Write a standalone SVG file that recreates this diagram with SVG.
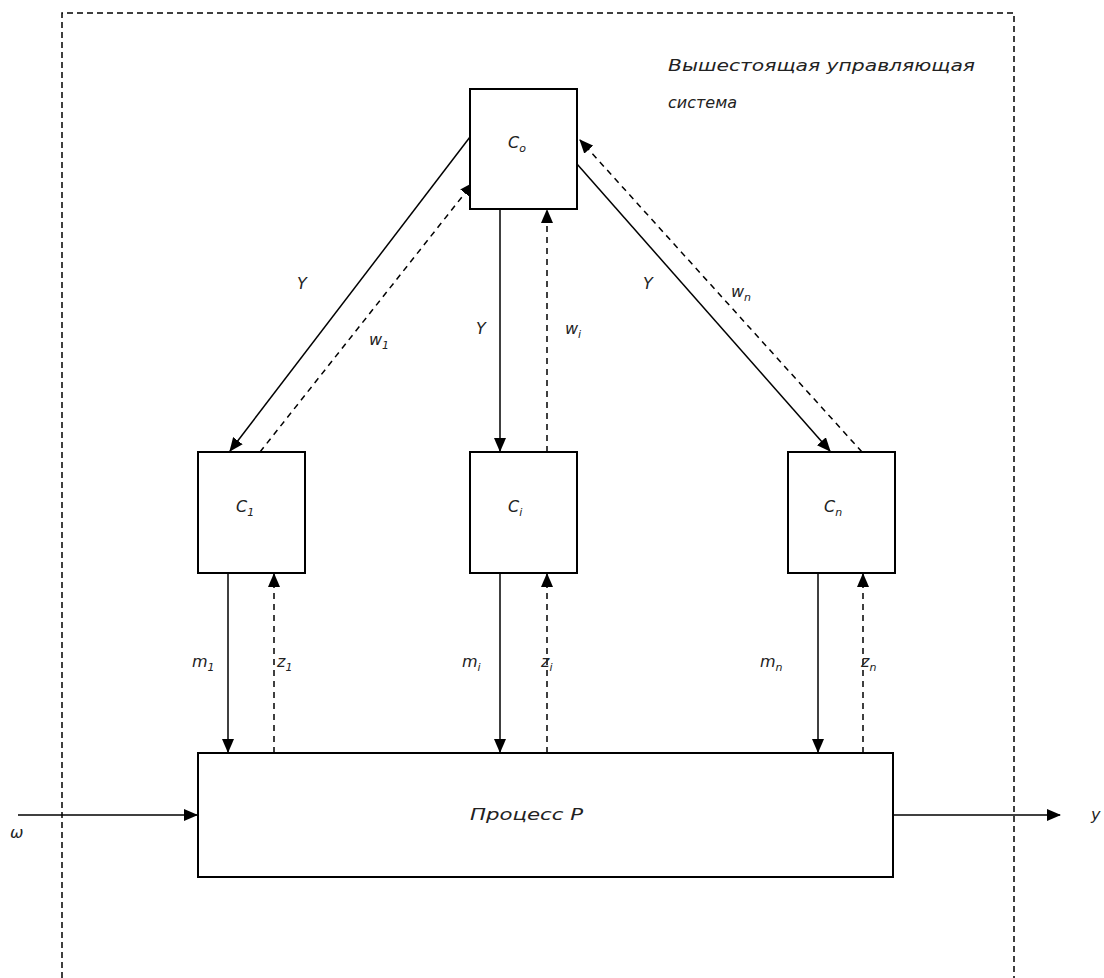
<svg xmlns="http://www.w3.org/2000/svg" width="1104" height="978" viewBox="0 0 1104 978">
  <style>
    .box { fill: #fff; stroke: #000; stroke-width: 2; }
    .ln { fill: none; stroke: #000; stroke-width: 1.5; }
    .dash { fill: none; stroke: #000; stroke-width: 1.5; stroke-dasharray: 6 5; }
    .frame { fill: none; stroke: #000; stroke-width: 1.5; stroke-dasharray: 6 4; }
    .t { font-family: "DejaVu Sans", "Liberation Sans", sans-serif; font-style: italic; font-size: 16px; fill: #222; }
    .s { font-size: 11px; }
  </style>
  <defs>
    <marker id="ah" markerUnits="userSpaceOnUse" markerWidth="14" markerHeight="12" refX="13" refY="6" orient="auto">
      <path d="M0,0 L14,6 L0,12 Z" fill="#000"/>
    </marker>
  </defs>

  <!-- boundary of the upper control system -->
  <path class="frame" d="M62,978 L62,13 L1014,13 L1014,978"/>
  <text class="t" x="668" y="71" textLength="307" lengthAdjust="spacingAndGlyphs">Вышестоящая управляющая</text>
  <text class="t" x="668" y="108">система</text>

  <g id="connectors">
    <!-- C0 to C1 -->
    <line class="ln" x1="470" y1="137" x2="230" y2="451" marker-end="url(#ah)"/>
    <line class="dash" x1="260" y1="452" x2="473" y2="183" marker-end="url(#ah)"/>
    <!-- C0 to Ci -->
    <line class="ln" x1="500" y1="209" x2="500" y2="451" marker-end="url(#ah)"/>
    <line class="dash" x1="547" y1="452" x2="547" y2="210" marker-end="url(#ah)"/>
    <!-- C0 to Cn -->
    <line class="ln" x1="577" y1="164" x2="830" y2="451" marker-end="url(#ah)"/>
    <line class="dash" x1="862" y1="452" x2="580" y2="140" marker-end="url(#ah)"/>
    <!-- local controllers to process -->
    <line class="ln" x1="228" y1="573" x2="228" y2="752" marker-end="url(#ah)"/>
    <line class="dash" x1="274" y1="753" x2="274" y2="574" marker-end="url(#ah)"/>
    <line class="ln" x1="500" y1="573" x2="500" y2="752" marker-end="url(#ah)"/>
    <line class="dash" x1="547" y1="753" x2="547" y2="574" marker-end="url(#ah)"/>
    <line class="ln" x1="818" y1="573" x2="818" y2="752" marker-end="url(#ah)"/>
    <line class="dash" x1="863" y1="753" x2="863" y2="574" marker-end="url(#ah)"/>
    <!-- process input and output -->
    <line class="ln" x1="18" y1="815" x2="197" y2="815" marker-end="url(#ah)"/>
    <line class="ln" x1="893" y1="815" x2="1060" y2="815" marker-end="url(#ah)"/>

    <text class="t" x="297" y="289">Y</text>
    <text class="t" x="369" y="345">w<tspan class="s" dy="4">1</tspan></text>
    <text class="t" x="476" y="334">Y</text>
    <text class="t" x="565" y="334">w<tspan class="s" dy="4">i</tspan></text>
    <text class="t" x="643" y="289">Y</text>
    <text class="t" x="731" y="297">w<tspan class="s" dy="4">n</tspan></text>

    <text class="t" x="192" y="667">m<tspan class="s" dy="4">1</tspan></text>
    <text class="t" x="277" y="667">z<tspan class="s" dy="4">1</tspan></text>
    <text class="t" x="462" y="667">m<tspan class="s" dy="4">i</tspan></text>
    <text class="t" x="541" y="667">z<tspan class="s" dy="4">i</tspan></text>
    <text class="t" x="760" y="667">m<tspan class="s" dy="4">n</tspan></text>
    <text class="t" x="861" y="667">z<tspan class="s" dy="4">n</tspan></text>

    <text class="t" x="10" y="838">ω</text>
    <text class="t" x="1091" y="820">y</text>
  </g>

  <g id="c0">
    <rect class="box" x="470" y="89" width="107" height="120"/>
    <text class="t" x="508" y="148">C<tspan class="s" dy="4">o</tspan></text>
  </g>
  <g id="c1">
    <rect class="box" x="198" y="452" width="107" height="121"/>
    <text class="t" x="236" y="512">C<tspan class="s" dy="4">1</tspan></text>
  </g>
  <g id="ci">
    <rect class="box" x="470" y="452" width="107" height="121"/>
    <text class="t" x="508" y="512">C<tspan class="s" dy="4">i</tspan></text>
  </g>
  <g id="cn">
    <rect class="box" x="788" y="452" width="107" height="121"/>
    <text class="t" x="824" y="512">C<tspan class="s" dy="4">n</tspan></text>
  </g>
  <g id="process">
    <rect class="box" x="198" y="753" width="695" height="124"/>
    <text class="t" x="470" y="820" textLength="113" lengthAdjust="spacingAndGlyphs">Процесс P</text>
  </g>
</svg>
